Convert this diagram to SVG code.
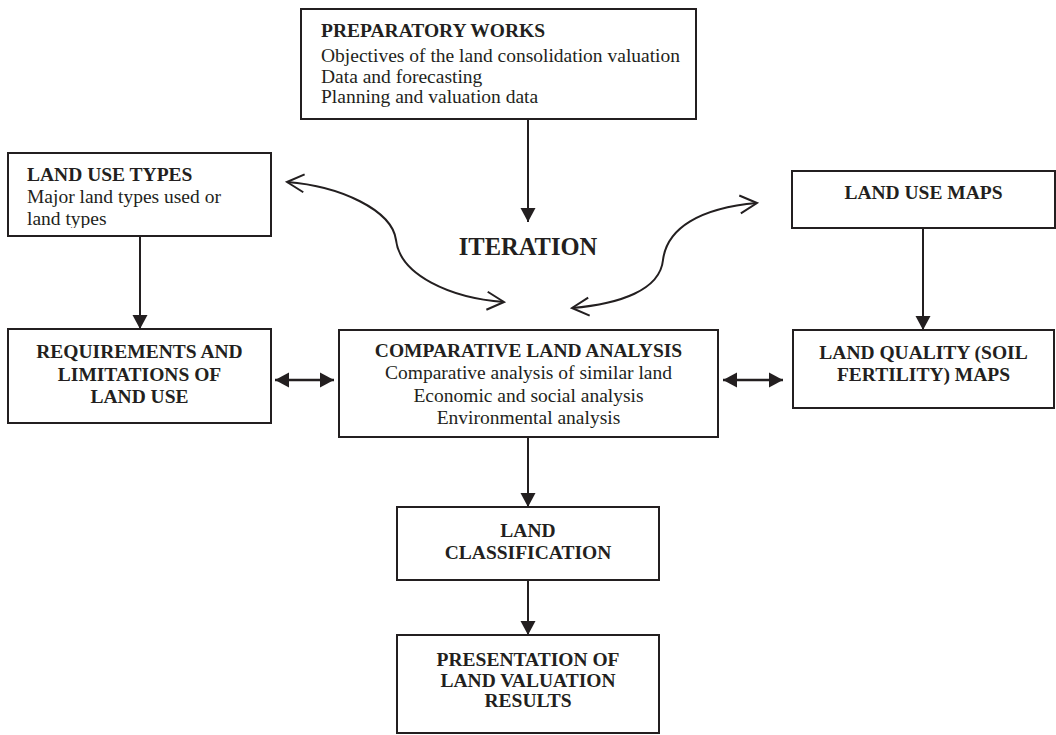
<svg xmlns="http://www.w3.org/2000/svg" width="1056" height="735" viewBox="0 0 1056 735">
<style>
.box{fill:#fff;stroke:#231f20;stroke-width:2}
.t{font-family:"Liberation Serif","Times New Roman",serif;font-size:19.5px;fill:#231f20}
.b{font-weight:bold}
.c{text-anchor:middle}
.ln{fill:none;stroke:#231f20;stroke-width:2}
.dbl{fill:none;stroke:#231f20;stroke-width:2.6}
</style>
<defs>
<marker id="fa" markerUnits="userSpaceOnUse" markerWidth="15" markerHeight="15" refX="14" refY="7.5" orient="auto-start-reverse" overflow="visible">
<path d="M0,0 L14,7.5 L0,15 Z" fill="#231f20"/>
</marker>
<marker id="oa" markerUnits="userSpaceOnUse" markerWidth="20" markerHeight="20" refX="17" refY="9" orient="auto-start-reverse" overflow="visible">
<path d="M0,0 L17,9 L0,18" fill="none" stroke="#231f20" stroke-width="2"/>
</marker>
<clipPath id="clipLUT"><rect x="9" y="154" width="261" height="74"/></clipPath>
</defs>
<rect width="1056" height="735" fill="#fff"/>

<g id="connectors">
<line class="ln" x1="528" y1="119" x2="528" y2="222" marker-end="url(#fa)"/>
<line class="ln" x1="140" y1="236" x2="140" y2="329" marker-end="url(#fa)"/>
<line class="ln" x1="923" y1="228" x2="923" y2="330" marker-end="url(#fa)"/>
<line class="ln" x1="528" y1="437" x2="528" y2="507" marker-end="url(#fa)"/>
<line class="ln" x1="528" y1="580" x2="528" y2="635" marker-end="url(#fa)"/>
<line class="dbl" x1="275" y1="380" x2="334" y2="380" marker-start="url(#fa)" marker-end="url(#fa)"/>
<line class="dbl" x1="723" y1="380" x2="783" y2="380" marker-start="url(#fa)" marker-end="url(#fa)"/>
<path class="ln" d="M287,182 C340,186 392,210 396,240 C400,275 450,298 504,302" marker-start="url(#oa)" marker-end="url(#oa)"/>
<path class="ln" d="M572,308 C620,304 660,290 663,260 C667,228 700,208 757,203" marker-start="url(#oa)" marker-end="url(#oa)"/>
</g>

<g id="iteration">
<text class="t b c" x="528" y="255" style="font-size:24.5px">ITERATION</text>
</g>

<g id="preparatory">
<rect class="box" x="301" y="9" width="395" height="110"/>
<text class="t b" x="321" y="37">PREPARATORY WORKS</text>
<text class="t" x="321" y="62">Objectives of the land consolidation valuation</text>
<text class="t" x="321" y="83">Data and forecasting</text>
<text class="t" x="321" y="103">Planning and valuation data</text>
</g>

<g id="land-use-types">
<rect class="box" x="8" y="153" width="263" height="83"/>
<g clip-path="url(#clipLUT)">
<text class="t b" x="27" y="181">LAND USE TYPES</text>
<text class="t" x="27" y="203">Major land types used or</text>
<text class="t" x="27" y="225">land types</text>
</g>
</g>

<g id="land-use-maps">
<rect class="box" x="792" y="171" width="263" height="57"/>
<text class="t b c" x="923.5" y="199">LAND USE MAPS</text>
</g>

<g id="requirements">
<rect class="box" x="8" y="329" width="263" height="94"/>
<text class="t b c" x="139.5" y="358">REQUIREMENTS AND</text>
<text class="t b c" x="139.5" y="381">LIMITATIONS OF</text>
<text class="t b c" x="139.5" y="403">LAND USE</text>
</g>

<g id="comparative">
<rect class="box" x="339" y="330" width="379" height="107"/>
<text class="t b c" x="528.5" y="357">COMPARATIVE LAND ANALYSIS</text>
<text class="t c" x="528.5" y="379">Comparative analysis of similar land</text>
<text class="t c" x="528.5" y="402">Economic and social analysis</text>
<text class="t c" x="528.5" y="424">Environmental analysis</text>
</g>

<g id="land-quality">
<rect class="box" x="793" y="330" width="261" height="78"/>
<text class="t b c" x="923.5" y="359">LAND QUALITY (SOIL</text>
<text class="t b c" x="923.5" y="381">FERTILITY) MAPS</text>
</g>

<g id="classification">
<rect class="box" x="397" y="507" width="262" height="73"/>
<text class="t b c" x="528" y="537">LAND</text>
<text class="t b c" x="528" y="559">CLASSIFICATION</text>
</g>

<g id="presentation">
<rect class="box" x="397" y="635" width="262" height="98"/>
<text class="t b c" x="528" y="666">PRESENTATION OF</text>
<text class="t b c" x="528" y="687">LAND VALUATION</text>
<text class="t b c" x="528" y="707">RESULTS</text>
</g>
</svg>
